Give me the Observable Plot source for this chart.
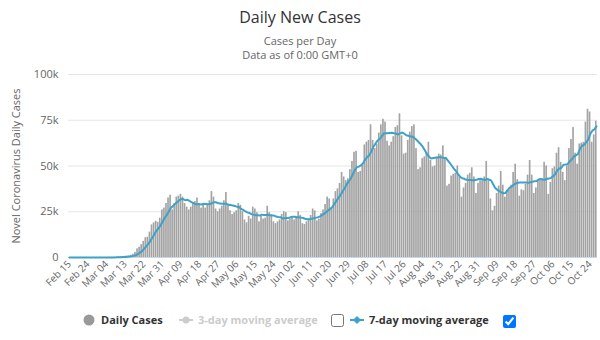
<!DOCTYPE html>
<html><head><meta charset="utf-8">
<script src="https://cdn.jsdelivr.net/npm/d3@7"></script>
<script src="https://cdn.jsdelivr.net/npm/@observablehq/plot@0.6"></script>
<style>
body{margin:0;width:600px;height:340px;position:relative;background:#fff;font-family:"Open Sans",sans-serif;overflow:hidden}
#title{position:absolute;top:6px;left:0;width:600px;text-align:center;font-size:16px;color:#333}
#sub{position:absolute;top:34px;left:0;width:600px;text-align:center;font-size:11px;line-height:14px;color:#666}
#chart{position:absolute;top:60px;left:0}
.lg{position:absolute;top:312px;font-size:11px;font-weight:bold;color:#333;white-space:nowrap}
input{margin:0}
</style></head><body>
<div id="title">Daily New Cases</div>
<div id="sub">Cases per Day<br>Data as of 0:00 GMT+0</div>
<div id="chart"></div>
<svg style="position:absolute;left:80px;top:312px" width="16" height="16">
  <circle cx="9" cy="8" r="5.5" fill="#999"/>
</svg>
<div class="lg" style="left:101px">Daily Cases</div>
<svg style="position:absolute;left:178px;top:312px" width="18" height="16">
  <line x1="1" y1="8" x2="15" y2="8" stroke="#ccc" stroke-width="2"/>
  <circle cx="8" cy="8" r="3.5" fill="#ccc"/>
</svg>
<div class="lg" style="left:198px;color:#ccc">3-day moving average</div>
<input type="checkbox" style="position:absolute;left:331px;top:314px">
<svg style="position:absolute;left:349px;top:312px" width="18" height="16">
  <line x1="1" y1="8" x2="15" y2="8" stroke="#3ca2c8" stroke-width="2"/>
  <path d="M8 4 L12 8 L8 12 L4 8 Z" fill="#3ca2c8"/>
</svg>
<div class="lg" style="left:369px">7-day moving average</div>
<input type="checkbox" checked style="position:absolute;left:503px;top:315px">
<script>
const startDate = "2020-02-15";
const casesFeb = [0,0,0,0,0,0,21,0,0,0,0,0,1,3,5];
const casesMar = [8,20,22,32,70,60,100,120,160,290,400,500,650,750,850,1200,1800,2800,4700,5600,7000,8800,10800,11100,13900,17800,18900,19800,19200,21500,26000];
const casesApr = [27000,29500,32500,34000,26000,29500,33000,33500,34500,33000,29500,27500,26000,27500,30000,30500,32500,29500,27000,28500,27000,29000,31000,36000,33000,26500,25000,26500,28000,31000];
const casesMay = [35500,29000,25500,23500,24500,25500,29500,28500,25000,20500,19000,22500,21000,27500,26500,24500,19500,22500,21000,21500,28000,24500,23500,19500,18500,19500,20500,23500,25000,24500,20000];
const casesJun = [21000,21500,20500,21500,25000,23000,18500,18000,19500,21000,23000,26500,25500,20000,21000,24000,26000,29000,33000,32000,26500,32000,36000,37500,40500,46500,44000,42000,43000,48000];
const casesJul = [52500,57500,58000,46500,47000,50500,61500,63000,64000,72500,64000,59500,62000,68000,72500,75500,74000,63500,61000,63000,66000,71000,72000,78500,66500,56500,57000,64000,68500,71500,72500];
const casesAug = [59500,48000,49000,54000,55000,57000,63000,53000,49500,50000,55000,56500,56000,61000,54000,39000,40000,44500,45500,46000,50000,44000,33000,38000,40500,45000,46000,49000,44000,35000,40500];
const casesSep = [42000,42000,44000,52500,42000,32000,25500,28000,35000,39000,47000,39500,33000,36500,37000,39500,46500,51000,42500,33500,37000,36500,40000,45000,53000,45000,35000,38000,42000,42000];
const casesOct = [43000,52000,50000,34500,41000,48500,49500,57000,60000,52000,46500,42000,50000,59500,64500,71000,57000,51000,62000,62500,63000,74000,81000,79500,63000,67000,74500];
const yTicks = [0,25000,50000,75000,100000];

const allCases = [].concat(casesFeb,casesMar,casesApr,casesMay,casesJun,casesJul,casesAug,casesSep,casesOct);
const t0 = new Date(startDate + "T00:00:00Z");
const data = allCases.map((c,i) => ({date: d3.utcDay.offset(t0, i), cases: c}));
const last = data[data.length-1].date;
const xTicks = d3.utcDay.range(t0, d3.utcDay.offset(last,1)).filter((d,i) => i % 9 === 0);
const half = 12*3600*1000;

const chart = Plot.plot({
  width: 600, height: 245,
  marginLeft: 68, marginRight: 3, marginTop: 14, marginBottom: 48,
  style: {fontFamily: "'Open Sans', sans-serif", fontSize: "11px", color: "#666", background: "transparent"},
  x: {type: "utc", domain: [new Date(+t0 - half), new Date(+last + half)]},
  y: {domain: [0, 100000]},
  marks: [
    Plot.gridY(yTicks, {stroke: "#e6e6e6", strokeOpacity: 1}),
    Plot.axisY(yTicks, {tickSize: 0, tickPadding: 10, tickFormat: d => d === 0 ? "0" : d/1000 + "k",
      label: "Novel Coronavirus Daily Cases", labelAnchor: "center", labelOffset: 56, labelArrow: "none", fill: "#666"}),
    Plot.axisX(xTicks, {tickSize: 0, tickPadding: 5, tickRotate: -45, tickFormat: d3.utcFormat("%b %d"), fontSize: 10, fill: "#666", label: null}),
    Plot.rectY(data, {x1: d => new Date(+d.date - half), x2: d => new Date(+d.date + half), y: "cases", fill: "#a3a3a3", insetRight: 0.4}),
    Plot.ruleY([0], {stroke: "#ccd6eb"}),
    Plot.lineY(data, Plot.windowY({k: 7, anchor: "end"}, {x: "date", y: "cases", stroke: "#3ca2c8", strokeWidth: 2}))
  ]
});
document.getElementById("chart").appendChild(chart);
</script>
</body></html>
